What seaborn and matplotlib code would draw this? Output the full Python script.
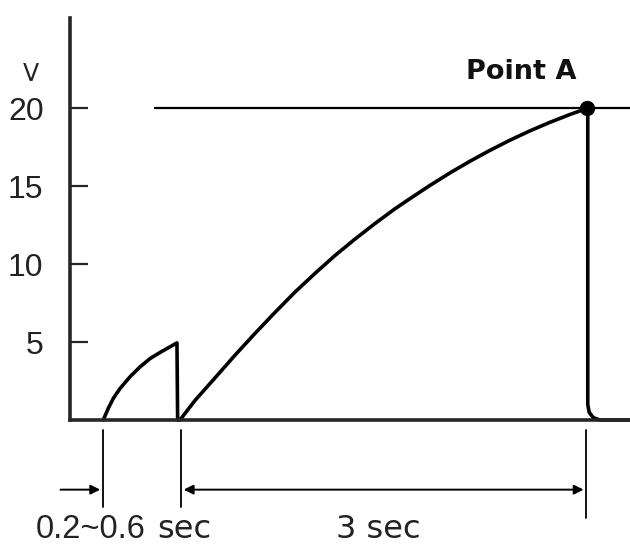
import numpy as np
import pandas as pd
import matplotlib
matplotlib.use("Agg")
import matplotlib.pyplot as plt
import seaborn as sns

# values (time in sec, voltage in V)
pulse_t = [0.244, 0.281, 0.318, 0.367, 0.440, 0.513, 0.587, 0.660, 0.733, 0.785, 0.79]
pulse_v = [0.0, 0.75, 1.39, 2.02, 2.77, 3.40, 3.94, 4.33, 4.69, 4.95, 0.0]
charge_t = [0.807, 0.917, 1.064, 1.210, 1.357, 1.504, 1.650, 1.797, 1.944, 2.090, 2.237,
            2.384, 2.494, 2.641, 2.787, 2.934, 3.081, 3.227, 3.374, 3.521, 3.667, 3.795]
charge_v = [0.0, 1.25, 2.7, 4.15, 5.55, 6.9, 8.2, 9.4, 10.55, 11.6, 12.6,
            13.55, 14.2, 15.05, 15.85, 16.6, 17.3, 17.95, 18.55, 19.1, 19.6, 20.0]
drop_t = [3.80, 3.80, 3.81, 3.84, 3.89, 4.11]
drop_v = [20.0, 1.0, 0.5, 0.15, 0.0, 0.0]

point_a = (3.795, 20.0)
yticks = [5, 10, 15, 20]
ytick_labels = ["5", "10", "15", "20"]
t_max, v_max = 4.11, 25.8

df = pd.DataFrame({
    "t": pulse_t + charge_t + drop_t,
    "v": pulse_v + charge_v + drop_v,
})

sns.set_style("ticks")
plt.rcParams['font.family'] = ['DejaVu Sans']
digits = ['Liberation Sans', 'DejaVu Sans']

fig = plt.figure(figsize=(6.3, 5.51), dpi=100)
ax = fig.add_axes([70 / 630, 131 / 551, 560 / 630, 402 / 551])

sns.lineplot(data=df, x="t", y="v", sort=False, estimator=None,
             color="black", linewidth=2.6, ax=ax, clip_on=False)
ax.hlines(20, 0.62, t_max, color="black", linewidth=1.6, clip_on=False)
ax.plot(*point_a, "o", color="black", markersize=10, clip_on=False, zorder=5)
ax.text(3.31, 21.5, "Point A", fontsize=19.5, fontweight="bold",
        ha="center", va="bottom", color="#111")

ax.set_xlim(0, t_max)
ax.set_ylim(0, v_max)
ax.set_xticks([])
ax.set_yticks(yticks)
ax.set_yticklabels(ytick_labels, family=digits, fontsize=23, color="#222")
ax.tick_params(axis="y", direction="in", length=13, width=1.6, pad=19)
ax.set_xlabel("")
ax.set_ylabel("")
sns.despine(ax=ax)
for side in ["left", "bottom"]:
    ax.spines[side].set_linewidth(2.6)
ax.text(-0.29, 22.2, "V", fontsize=17, ha="center", va="center", color="#222")

# dimension lines below the time axis
for t, bottom in [(0.242, -5.6), (0.814, -5.6), (3.79, -6.3)]:
    ax.plot([t, t], [-0.65, bottom], color="black", linewidth=1.3, clip_on=False)
arrow_style = dict(arrowstyle="-|>", color="black", lw=1.4, mutation_scale=14)
ax.annotate("", xy=(0.242, -4.47), xytext=(-0.09, -4.47), arrowprops=arrow_style,
            annotation_clip=False)
ax.annotate("", xy=(3.79, -4.47), xytext=(0.814, -4.47),
            arrowprops=dict(arrowstyle="<|-|>", color="black", lw=1.4, mutation_scale=14),
            annotation_clip=False)
ax.text(-0.25, -7.0, "0.2~0.6", family=digits, fontsize=23.5, ha="left", va="center", color="#222")
ax.text(0.64, -7.05, "sec", fontsize=23, ha="left", va="center", color="#222")
ax.text(2.26, -7.05, "3 sec", fontsize=23, ha="center", va="center", color="#222")

fig.savefig("out.png", dpi=100)
